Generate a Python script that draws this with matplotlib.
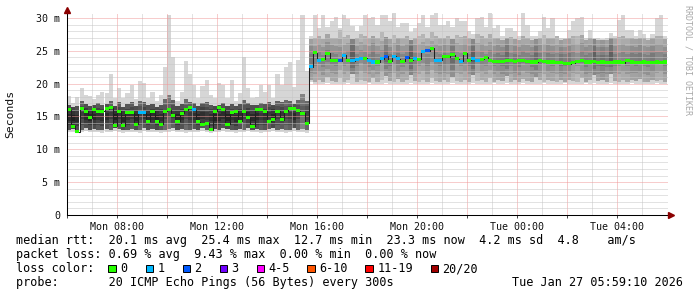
import numpy as np
import matplotlib
matplotlib.use('Agg')
import matplotlib.pyplot as plt
from matplotlib.patches import Rectangle

plt.rcParams['font.family'] = 'DejaVu Sans Mono'

# ── data: 10 minute bins, Mon 06:00 -> Tue 06:00 (hours since Mon 00:00) ──
hours = 6 + np.arange(144) / 6.0

# smoke envelope (ms): light spikes, medium band, and floor
ping_max = [
    18.1, 17.1, 17.9, 19.3, 18.2, 18.1, 17.6, 18.3, 18.8, 18.6,
    21.4, 17.8, 19.3, 17.8, 18.6, 19.8, 17.6, 20.4, 20.1, 17.8,
    18.8, 17.3, 18.3, 22.6, 30.5, 24.0, 17.3, 18.8, 23.5, 21.4,
    19.8, 17.8, 19.6, 20.6, 18.3, 17.8, 20.1, 19.8, 17.8, 20.5,
    17.3, 18.6, 24.1, 19.3, 17.8, 18.0, 19.8, 18.8, 19.8, 17.8,
    21.4, 19.8, 22.6, 23.3, 19.5, 23.6, 30.5, 22.0,
    27.2, 30.4, 28.5, 30.5, 28.7, 29.5, 30.2, 28.5, 30.5, 29.8,
    28.8, 28.0, 28.8, 30.5, 30.0, 30.2, 29.0, 30.5, 30.4, 29.5,
    30.7, 28.7, 29.2, 29.2, 27.8, 28.5, 29.2, 30.5, 28.7, 30.5,
    30.7, 29.0, 29.0, 29.5, 28.7, 30.0, 29.5, 29.5, 28.0, 27.5,
    30.0, 30.2, 28.7, 30.7, 28.5, 29.0, 27.2, 28.5, 28.5, 28.0,
    27.2, 30.7, 29.0, 27.2, 27.2, 28.0, 30.2, 28.5, 30.0, 27.0,
    27.0, 27.0, 28.2, 29.5, 30.0, 30.2, 27.0, 28.2, 27.0, 27.0,
    26.8, 27.0, 27.7, 27.2, 29.7, 30.5, 28.2, 28.2, 27.2, 28.2,
    27.5, 27.0, 27.5, 30.0, 30.5, 27.2,
]
ping_hi = [
    16.8, 16.5, 16.6, 17.3, 16.9, 16.6, 16.7, 17.0, 16.8, 16.9,
    17.3, 16.6, 17.2, 16.5, 16.9, 17.2, 16.6, 17.4, 17.2, 16.7,
    16.9, 16.5, 16.8, 17.6, 18.2, 17.5, 16.6, 16.9, 17.6, 17.2,
    17.0, 16.6, 17.1, 17.2, 16.8, 16.6, 16.7, 17.0, 16.6, 16.9,
    16.6, 16.9, 17.5, 17.0, 16.7, 16.8, 17.1, 16.9, 17.2, 16.7,
    17.3, 17.2, 17.5, 17.3, 16.9, 17.5, 18.5, 17.4,
    26.8,
    27.0, 27.3, 26.8, 27.5, 27.0, 26.9, 28.2, 27.1, 27.4, 26.8,
    27.0, 27.6, 27.2, 26.9, 27.3, 27.0, 27.8, 27.1, 26.8, 27.4,
    27.0, 26.9, 27.2, 26.7, 27.0, 27.3, 27.6, 27.0, 27.8, 27.2,
    26.9,
    27.0, 27.2, 26.8, 27.4, 27.1, 27.3, 26.9, 26.8, 27.5, 27.2,
    27.0, 27.6, 26.9, 27.0, 26.7, 27.0, 27.1, 26.8, 26.7, 27.3,
    27.0, 26.7, 26.8, 27.0, 27.4, 27.0, 26.9, 27.2,
    26.7, 26.8, 26.9, 27.2, 27.3, 27.4, 26.7, 27.0, 26.8, 26.7,
    26.6, 26.7, 27.0, 26.9, 27.1, 27.3, 27.0, 26.9, 26.8, 27.0,
    26.9, 26.7, 26.9, 27.2, 27.3, 26.8,
]
ping_lo = [
    13.0, 13.1, 12.9, 13.0, 13.2, 13.0, 13.1, 13.0, 12.9, 13.1,
    13.0, 13.2, 13.1, 12.9, 13.0, 13.1, 13.0, 12.9, 13.2, 13.0,
    13.1, 13.0, 12.9, 13.0, 13.1, 13.2, 13.0, 13.1, 12.9, 13.0,
    13.1, 13.0, 13.2, 13.0, 12.9, 13.1, 13.0, 13.2, 13.1, 13.0,
    12.9, 13.1, 13.0, 13.2, 13.0, 13.1, 12.9, 13.0, 13.1, 13.2,
    13.0, 13.1, 12.9, 13.0, 13.2, 13.0, 13.1, 12.9,
    20.5,
    20.3, 20.6, 20.2, 21.0, 20.4, 20.3, 20.8, 20.2, 20.5, 21.4,
    20.3, 20.6, 20.4, 20.2, 20.9, 20.3, 20.5, 21.2, 20.4, 20.3,
    20.7, 20.2, 20.5, 21.3, 20.4, 20.2, 20.6, 20.3, 20.8, 20.4,
    20.3,
    20.5, 20.3, 21.0, 20.4, 20.2, 20.6, 20.3, 21.3, 20.4, 20.5,
    20.2, 20.8, 20.3, 20.6, 20.4, 21.2, 20.3, 20.5, 20.2, 20.7,
    20.4, 20.3, 21.0, 20.5, 20.2, 20.6, 20.4, 20.3,
    20.5, 20.3, 20.6, 20.4, 20.2, 20.8, 20.3, 20.5, 21.3, 20.4,
    20.6, 20.3, 21.5, 20.4, 20.2, 20.6, 20.3, 20.5, 20.4, 20.7,
    20.3, 20.2, 20.6, 20.4, 20.5, 20.3,
]
ping_min = [
    12.6, 12.7, 12.5, 12.6, 12.8, 12.6, 12.7, 12.6, 12.5, 12.7,
    12.6, 12.8, 12.7, 12.5, 12.6, 12.7, 12.6, 12.5, 12.8, 12.6,
    12.7, 12.6, 12.5, 12.6, 12.7, 12.8, 12.6, 12.7, 12.5, 12.6,
    12.7, 12.6, 12.8, 12.6, 12.5, 12.7, 12.6, 12.8, 12.7, 12.6,
    12.5, 12.7, 12.6, 12.8, 12.6, 12.7, 12.5, 12.6, 12.7, 12.8,
    12.6, 12.7, 12.5, 12.6, 12.8, 12.6, 12.7, 12.5,
    20.2,
    20.0, 19.9, 20.0, 20.1, 20.0, 19.9, 20.0, 20.0, 20.1, 20.0,
    19.9, 20.0, 20.0, 20.1, 20.0, 19.9, 20.0, 20.1, 20.0, 20.0,
    19.9, 20.0, 20.0, 20.1, 20.0, 19.9, 20.0, 20.0, 20.1, 20.0,
    19.9,
    20.0, 20.0, 20.1, 20.0, 19.9, 20.0, 20.0, 20.1, 20.0, 20.0,
    19.9, 20.0, 20.1, 20.0, 20.0, 20.1, 19.9, 20.0, 20.0, 20.1,
    20.0, 19.9, 20.0, 20.0, 20.1, 20.0, 19.9, 20.0,
    20.0, 20.1, 20.0, 19.9, 20.0, 20.0, 20.1, 20.0, 20.1, 19.9,
    20.0, 20.0, 20.1, 20.0, 19.9, 20.0, 20.0, 20.1, 20.0, 20.0,
    19.9, 20.0, 20.0, 20.1, 20.0, 20.0,
]
median = [
    16.0, 13.5, 12.7, 16.2, 15.8, 14.8, 16.0, 15.7, 15.8, 16.2,
    16.3, 13.6, 15.8, 13.6, 15.6, 15.6, 13.8, 15.6, 15.6, 14.3,
    15.8, 14.3, 13.8, 15.8, 16.0, 15.1, 14.3, 15.5, 16.0, 16.3,
    16.0, 14.2, 13.8, 14.0, 13.0, 15.8, 16.3, 16.0, 13.8, 15.6,
    15.8, 14.3, 15.7, 14.8, 13.5, 16.0, 16.0, 15.8, 14.3, 14.6,
    15.8, 14.5, 15.8, 16.2, 16.2, 15.9, 15.5, 14.0,
    22.6,
    24.7, 23.6, 23.7, 24.6, 23.6, 23.5, 23.5, 24.3, 23.6, 23.5,
    23.7, 23.9, 23.9, 23.5, 23.3, 23.3, 23.8, 24.2, 23.4, 24.2,
    23.8, 23.4, 24.0, 23.6, 23.8, 23.7, 24.9, 25.0, 25.4, 23.5,
    23.6,
    24.2, 24.1, 24.4, 23.8, 23.4, 24.6, 23.6, 23.8, 23.6, 23.7,
    24.0, 23.6, 23.4, 23.4, 23.4, 23.5, 23.6, 23.4, 23.6, 23.5,
    23.4, 23.3, 23.3, 23.5, 23.4, 23.3, 23.3, 23.2,
    23.2, 23.1, 23.0, 23.2, 23.4, 23.5, 23.3, 23.3, 23.4, 23.2,
    23.3, 23.2, 23.2, 23.3, 23.3, 23.2, 23.5, 23.3, 23.2, 23.2,
    23.3, 23.2, 23.2, 23.3, 23.2, 23.3,
]
# lost pings per bin (out of 20)
loss = [
    0, 0, 0, 0, 0, 0, 0, 0, 0, 0,
    0, 0, 0, 0, 0, 0, 0, 1, 1, 0,
    0, 0, 0, 0, 0, 0, 0, 0, 0, 0,
    1, 0, 0, 0, 0, 0, 0, 0, 0, 0,
    0, 0, 0, 0, 0, 0, 0, 0, 0, 0,
    0, 0, 0, 0, 0, 0, 0, 0,
    1,
    0, 1, 0, 0, 0, 0, 2, 1, 0, 1,
    1, 1, 0, 1, 1, 0, 1, 2, 0, 1,
    1, 0, 2, 0, 1, 0, 1, 2, 0, 1,
    1,
    0, 0, 0, 0, 1, 0, 0, 1, 1, 0,
    0, 0, 0, 0, 0, 0, 0, 0, 0, 0,
    0, 0, 0, 0, 0, 0, 0, 0,
    0, 0, 0, 0, 0, 0, 0, 0, 0, 0,
    0, 0, 0, 0, 0, 0, 0, 0, 0, 0,
    0, 0, 0, 0, 0, 0,
]

loss_labels = ['0', '1', '2', '3', '4-5', '6-10', '11-19', '20/20']
loss_colors = ['#26ff00', '#00b8ff', '#0059ff', '#7000ff', '#ff00ff',
               '#ff5500', '#ff0000', '#a00000']

tick_hours = [8, 12, 16, 20, 24, 28]
tick_labels = ['Mon 08:00', 'Mon 12:00', 'Mon 16:00', 'Mon 20:00',
               'Tue 00:00', 'Tue 04:00']

legend_lines = [
    'median rtt:  20.1 ms avg  25.4 ms max  12.7 ms min  23.3 ms now  4.2 ms sd  4.8    am/s',
    'packet loss: 0.69 % avg  9.43 % max  0.00 % min  0.00 % now',
    'loss color:',
    'probe:       20 ICMP Echo Pings (56 Bytes) every 300s',
]

# ── figure ──
W, H = 697, 297
fig = plt.figure(figsize=(W / 100, H / 100), dpi=100)
fig.patch.set_facecolor('white')
ax = fig.add_axes([67 / W, (H - 215) / H, 601 / W, 202 / H])
ax.set_xlim(6.0, 30.04)
ax.set_ylim(0, 30.76)

lo = np.array(ping_lo)
hi = np.array(ping_hi)
width = 1 / 6
spread = hi - lo
shade = np.clip(0.30 + 0.12 * (spread - 3.6), 0.22, 0.72)

# smoke: light envelope, then darker nested bands
ax.bar(hours, np.array(ping_max) - np.array(ping_min), width, bottom=ping_min,
       align='edge', color='#d6d6d6', linewidth=0, antialiased=False, zorder=1)
ax.bar(hours, spread, width, bottom=lo, align='edge',
       color=[str(g) for g in shade], linewidth=0, antialiased=False, zorder=1)
for frac, dark in [(0.18, 0.08), (0.36, 0.15)]:
    b_lo = lo + frac * spread
    b_hi = hi - frac * spread
    ax.bar(hours, b_hi - b_lo, width, bottom=b_lo, align='edge',
           color=[str(max(g - dark, 0.1)) for g in shade],
           linewidth=0, antialiased=False, zorder=1)

# median: dark line plus loss-coloured marks
ax.step(hours + width / 2, median, where='mid', color='#202020', lw=0.75, zorder=3)
ax.bar(hours, 0.46, width, bottom=np.array(median) - 0.23, align='edge',
       color=[loss_colors[min(l, 7)] for l in loss], linewidth=0,
       antialiased=False, zorder=4)

# grid
ax.set_xticks(np.arange(6, 30, 2))
ax.set_xticklabels(['' if h not in tick_hours else tick_labels[tick_hours.index(h)]
                    for h in range(6, 30, 2)])
ax.set_xticks(np.arange(6, 30, 1), minor=True)
ax.set_yticks(np.arange(0, 31, 5))
ax.set_yticklabels(['0'] + ['%d m' % v for v in range(5, 31, 5)])
ax.set_yticks(np.arange(0, 31, 1), minor=True)
ax.set_axisbelow(False)
ax.grid(True, which='minor', color='#c6c6c6', linestyle=(0, (1, 1)), linewidth=0.72)
ax.grid(True, which='major', color='#f09a9a', linestyle=(0, (1, 1)), linewidth=0.72)
ax.tick_params(axis='y', which='both', length=0, pad=5, labelsize=7.2, labelcolor='#111')
ax.tick_params(axis='x', which='major', length=2, width=0.7, pad=3, labelsize=7.2,
               labelcolor='#111', color='#444')
ax.tick_params(axis='x', which='minor', length=0)

for side in ('top', 'right'):
    ax.spines[side].set_visible(False)
for side in ('left', 'bottom'):
    ax.spines[side].set_color('#000')
    ax.spines[side].set_linewidth(0.75)
    ax.spines[side].set_zorder(5)

# axis arrows
ax.plot([1.0042], [0], transform=ax.transAxes, marker='>', markersize=4,
        color='#8b0000', clip_on=False, zorder=6)
ax.plot([0], [1.0124], transform=ax.transAxes, marker='^', markersize=4,
        color='#8b0000', clip_on=False, zorder=6)

fig.text(10 / W, 1 - 114 / H, 'Seconds', rotation=90, ha='center', va='center',
         fontsize=8.2, color='#111')
fig.text(688 / W, 1 - 5 / H, 'RRDTOOL / TOBI OETIKER', rotation=270, ha='center',
         va='top', fontsize=6, color='#a8a8a8')

# legend block
for i, line in enumerate(legend_lines):
    fig.text(16 / W, 1 - (244 + 14 * i) / H, line, ha='left', va='baseline',
             fontsize=8.5, color='#000')
fig.text(683 / W, 1 - 286 / H, 'Tue Jan 27 05:59:10 2026', ha='right',
         va='baseline', fontsize=8.5, color='#000')

box_x = [108, 145.5, 182.5, 219.5, 256.6, 307.3, 365.3, 430.6]
for bx, lab, col in zip(box_x, loss_labels, loss_colors):
    fig.patches.append(Rectangle((bx / W, 1 - 272 / H), 7.5 / W, 7.5 / H,
                                 transform=fig.transFigure, facecolor=col,
                                 edgecolor='#000', linewidth=0.7))
    fig.text((bx + 12) / W, 1 - 272 / H, lab, ha='left', va='baseline',
             fontsize=8.5, color='#000')

fig.savefig('out.png', dpi=100, facecolor='white')
